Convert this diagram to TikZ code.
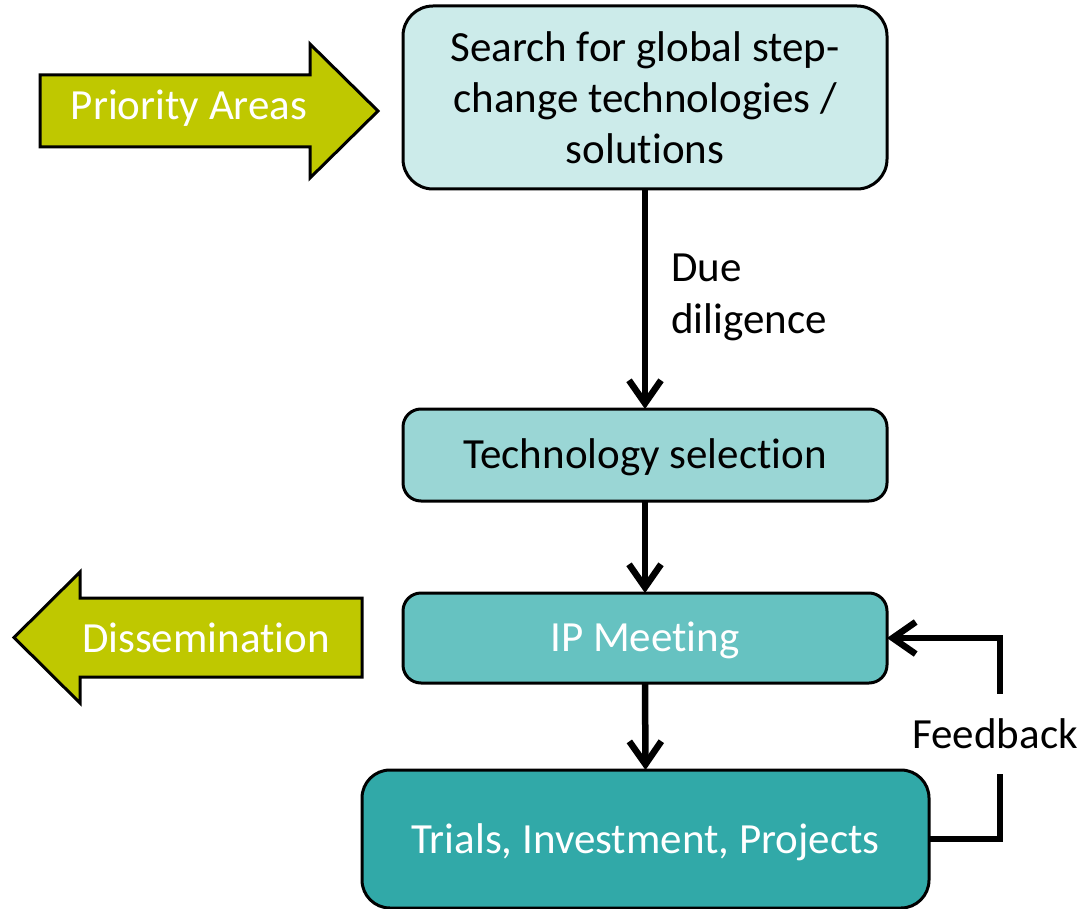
\documentclass[tikz,border=0pt]{standalone}
\usepackage{fontspec}
\setmainfont{Carlito}[Ligatures=NoCommon]
\usetikzlibrary{arrows.meta}
\definecolor{boxA}{HTML}{CCEBEA}
\definecolor{boxB}{HTML}{9AD6D5}
\definecolor{boxC}{HTML}{66C2C1}
\definecolor{boxD}{HTML}{31A9A8}
\definecolor{olive}{HTML}{BFC800}
\newcommand{\oneline}[2]{\raisebox{-#1pt}[0pt][0pt]{#2}}
\tikzset{
  flowbox/.style={draw=black, line width=3pt, inner sep=0pt, outer sep=0pt, align=center,
    font=\fontsize{43}{51}\selectfont},
  connline/.style={line width=6.5pt},
  conn/.style={connline, -{Straight Barb[length=23pt, width=32pt, line width=6.5pt]}},
  fatarrow/.style={draw=black, line width=3pt, fill=olive, line join=miter},
  arrowtext/.style={text=white, font=\fontsize{43}{51}\selectfont, inner sep=0pt},
  plainlabel/.style={font=\fontsize{43}{52}\selectfont, inner sep=0pt, align=left}
}
\begin{document}
\begin{tikzpicture}[x=1pt, y=-1pt]
\useasboundingbox (0,0) rectangle (1083,909);
\fill[white] (0,0) rectangle (1083,909);

% boxes
\node[flowbox, fill=boxA, rounded corners=30pt, minimum width=484pt, minimum height=183pt] (b1) at (645,97.5)
  {Search for global step-\\change technologies /\\solutions};
\node[flowbox, fill=boxB, rounded corners=18pt, minimum width=484pt, minimum height=92pt] (b2) at (645,455)
  {\oneline{13}{Technology selection}};
\node[flowbox, fill=boxC, rounded corners=18pt, minimum width=484pt, minimum height=90pt, text=white] (b3) at (645,638)
  {\oneline{13}{IP Meeting}};
\node[flowbox, fill=boxD, rounded corners=28pt, minimum width=567pt, minimum height=138pt, text=white] (b4) at (645.5,839)
  {\oneline{14}{Trials, Investment, Projects}};

% fat arrows
\draw[fatarrow] (40,75) -- (310,75) -- (310,44) -- (378,111) -- (310,178) -- (310,147) -- (40,147) -- cycle;
\node[arrowtext] (pa) at (189,108) {Priority Areas};
\draw[fatarrow] (362,598) -- (80,598) -- (80,572) -- (14,637.5) -- (80,703) -- (80,677) -- (362,677) -- cycle;
\node[arrowtext] (dis) at (206,638) {Dissemination};

% connectors
\draw[conn] (b1.south) -- (b2.north);
\draw[conn] (b2.south) -- (b3.north);
\draw[conn] (b3.south) -- (b4.north);
\node[plainlabel, anchor=west] (dd) at (671,297) {Due\\diligence};

% feedback loop
\node[plainlabel, minimum height=80pt] (fbl) at (995,734) {Feedback};
\coordinate (fb) at (1000,734);
\draw[connline] (b4.east) -| (fbl.south -| fb);
\draw[conn] (fbl.north -| fb) |- (b3.east);
\end{tikzpicture}
\end{document}
